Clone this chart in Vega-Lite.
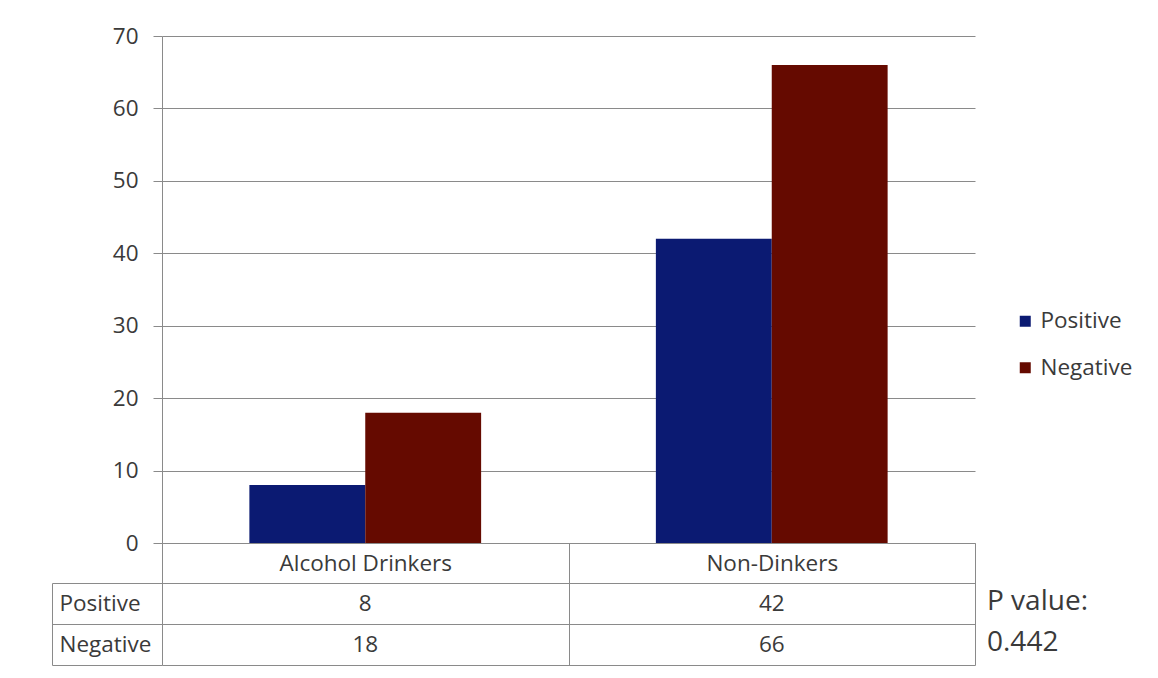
{
  "$schema": "https://vega.github.io/schema/vega-lite/v6.json",
  "width": 813,
  "height": 507,
  "autosize": {"type": "none"},
  "padding": {"left": 162, "top": 36, "right": 183, "bottom": 135},
  "background": "white",
  "config": {
    "font": "Open Sans",
    "view": {"stroke": null},
    "axis": {
      "title": null,
      "labelFont": "Open Sans",
      "labelColor": "#3a3a3a",
      "domainColor": "#8a8a8a",
      "tickColor": "#8a8a8a",
      "gridColor": "#8a8a8a",
      "gridOpacity": 1,
      "domainWidth": 1,
      "tickWidth": 1,
      "gridWidth": 1
    },
    "text": {"font": "Open Sans", "color": "#3a3a3a"}
  },
  "datasets": {
    "counts": [
      {"group": "Alcohol Drinkers", "result": "Positive", "count": 8},
      {"group": "Alcohol Drinkers", "result": "Negative", "count": 18},
      {"group": "Non-Dinkers", "result": "Positive", "count": 42},
      {"group": "Non-Dinkers", "result": "Negative", "count": 66}
    ],
    "pvalue": [
      {"group": "Non-Dinkers", "result": "Positive", "note": "P value:"},
      {"group": "Non-Dinkers", "result": "Negative", "note": "0.442"}
    ]
  },
  "data": {"name": "counts"},
  "encoding": {
    "x": {
      "field": "group",
      "type": "nominal",
      "sort": null,
      "scale": {"domain": ["Alcohol Drinkers", "Non-Dinkers"], "paddingInner": 0, "paddingOuter": 0},
      "axis": {
        "orient": "bottom",
        "grid": false,
        "domain": true,
        "ticks": true,
        "tickBand": "extent",
        "tickSize": 122,
        "labelBaseline": "middle",
        "labelPadding": -102,
        "labelFontSize": 22.5,
        "labelAngle": 0
      }
    }
  },
  "layer": [
    {
      "mark": {"type": "bar", "strokeWidth": 0},
      "encoding": {
        "xOffset": {
          "field": "result",
          "type": "nominal",
          "sort": null,
          "scale": {"domain": ["Positive", "Negative"], "paddingInner": 0, "paddingOuter": 0.754}
        },
        "y": {
          "field": "count",
          "type": "quantitative",
          "scale": {"domain": [0, 70], "nice": false},
          "axis": {
            "orient": "left",
            "values": [0, 10, 20, 30, 40, 50, 60, 70],
            "grid": true,
            "domain": true,
            "tickSize": 9,
            "labelPadding": 15,
            "labelFontSize": 22.5
          }
        },
        "color": {
          "field": "result",
          "type": "nominal",
          "scale": {"domain": ["Positive", "Negative"], "range": ["#0b1a72", "#650a00"]},
          "legend": {
            "orient": "none",
            "legendX": 852,
            "legendY": 274,
            "title": null,
            "padding": 0,
            "symbolType": "square",
            "symbolSize": 121,
            "symbolStrokeWidth": 0,
            "labelFontSize": 22.5,
            "labelFont": "Open Sans",
            "labelColor": "#3a3a3a",
            "labelOffset": 4,
            "rowPadding": 23.5
          }
        }
      }
    },
    {
      "encoding": {
        "y": {
          "field": "result",
          "type": "nominal",
          "sort": null,
          "scale": {"domain": ["Positive", "Negative"], "range": [547, 629], "paddingInner": 0, "paddingOuter": 0},
          "axis": {
            "orient": "left",
            "offset": 110,
            "grid": true,
            "domain": true,
            "tickBand": "extent",
            "tickSize": -110,
            "labelAlign": "left",
            "labelBaseline": "middle",
            "labelPadding": 103,
            "labelFontSize": 22.5
          }
        }
      },
      "layer": [
        {
          "mark": {"type": "text", "fontSize": 22.5},
          "encoding": {
            "text": {"field": "count", "type": "quantitative"}
          }
        },
        {
          "data": {"name": "pvalue"},
          "mark": {"type": "text", "fontSize": 28, "align": "left", "dx": 12, "dy": -2},
          "encoding": {
            "x": {"field": "group", "type": "nominal", "bandPosition": 1},
            "text": {"field": "note", "type": "nominal"}
          }
        }
      ]
    }
  ],
  "resolve": {"scale": {"y": "independent"}, "axis": {"y": "independent"}}
}
